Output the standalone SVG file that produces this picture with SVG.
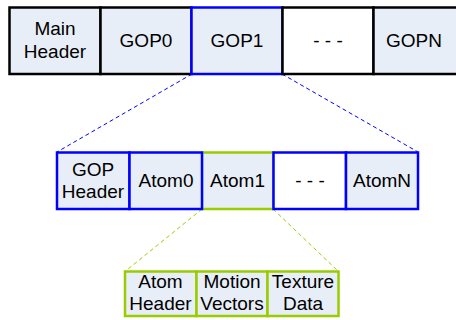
<svg xmlns="http://www.w3.org/2000/svg" width="456" height="320" viewBox="0 0 456 320">
<style>
  .box{fill:#E8EEF7;stroke-width:2.5}
  .blank{fill:#FFFFFF;stroke-width:2.5}
  .k{stroke:#000000}
  .b{stroke:#0000FF}
  .g{stroke:#99CC00}
  text{font-family:"Liberation Sans",Arial,sans-serif;font-size:19px;fill:#000000;text-anchor:middle}
  .dash{fill:none;stroke-width:1;stroke-dasharray:4 3}
</style>
<rect x="0" y="0" width="456" height="320" fill="#FFFFFF"/>
<g id="connectors">
  <line class="dash b" x1="192" y1="74" x2="57" y2="152"/>
  <line class="dash b" x1="282" y1="74" x2="418" y2="152"/>
  <line class="dash g" x1="202" y1="209" x2="125" y2="271.5"/>
  <line class="dash g" x1="273" y1="209" x2="338.5" y2="271.5"/>
</g>
<g id="main-header"><rect class="box k" x="9.5" y="7.5" width="91" height="66.5"/><text x="55" y="35">Main</text><text x="55" y="57.5">Header</text></g>
<g id="gop0"><rect class="box k" x="100.5" y="7.5" width="91" height="66.5"/><text x="146" y="46.5">GOP0</text></g>
<g id="gop1"><rect class="box b" x="191.5" y="7.5" width="91" height="66.5"/><text x="237" y="46.5">GOP1</text></g>
<g id="gop-ellipsis"><rect class="blank k" x="282.5" y="7.5" width="91" height="66.5"/><text x="328" y="46.5">- - -</text></g>
<g id="gopn"><rect class="box k" x="373.5" y="7.5" width="91" height="66.5"/><text x="414" y="46.5">GOPN</text></g>

<g id="atom1"><rect class="box g" x="202" y="152.5" width="71.5" height="56.5"/><text x="237.5" y="186.5">Atom1</text></g>
<g id="gop-header"><rect class="box b" x="57" y="152.5" width="72.5" height="56.5"/><text x="93" y="175.5">GOP</text><text x="93" y="197.5">Header</text></g>
<g id="atom0"><rect class="box b" x="129.5" y="152.5" width="72.5" height="56.5"/><text x="166" y="186.5">Atom0</text></g>
<g id="atom-ellipsis"><rect class="blank b" x="273.5" y="152.5" width="72.5" height="56.5"/><text x="310" y="186.5">- - -</text></g>
<g id="atomn"><rect class="box b" x="346" y="152.5" width="72" height="56.5"/><text x="382" y="186.5">AtomN</text></g>

<g id="atom-header"><rect class="box g" x="125" y="271.5" width="71.5" height="44.5"/><text x="160.5" y="287.5">Atom</text><text x="160.5" y="310">Header</text></g>
<g id="motion-vectors"><rect class="box g" x="196.5" y="271.5" width="71" height="44.5"/><text x="232" y="287.5">Motion</text><text x="232" y="310">Vectors</text></g>
<g id="texture-data"><rect class="box g" x="267.5" y="271.5" width="71" height="44.5"/><text x="303" y="287.5">Texture</text><text x="303" y="310">Data</text></g>
</svg>
